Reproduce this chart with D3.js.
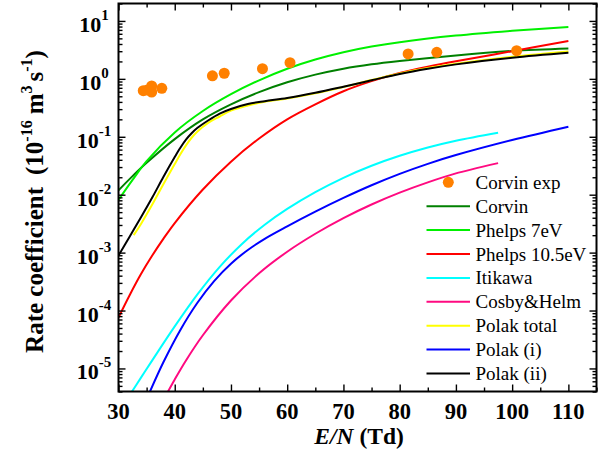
<!DOCTYPE html>
<html>
<head>
<meta charset="utf-8">
<script src="https://cdn.jsdelivr.net/npm/d3@7"></script>
<style>
  html, body { margin: 0; padding: 0; background: #fff; }
  svg { display: block; font-family: "Liberation Serif", "Times New Roman", Times, serif; }
</style>
</head>
<body>
<svg id="chart" width="605" height="456"></svg>
<script>
// ---- Rate coefficient vs reduced field E/N (units of 1e-16 m^3 s^-1) ----

// Corvin experimental points
const corvinExpEN = [34.4, 35.1, 35.9, 35.9, 37.7, 46.7, 48.8, 55.6, 60.5, 81.5, 86.6, 100.8];
const corvinExpK  = [0.625, 0.64, 0.753, 0.593, 0.687, 1.13, 1.25, 1.50, 1.90, 2.69, 2.87, 3.06];

// Corvin
const corvinEN = [30, 32.5, 35, 40, 45, 50, 55, 60, 65, 70, 75, 80, 90, 100, 110];
const corvinK  = [0.0119, 0.0209, 0.0355, 0.0912, 0.1995, 0.363, 0.589, 0.871, 1.182, 1.496, 1.782, 2.035, 2.541, 3.03, 3.34];

// Phelps 7eV
const phelps7EN = [30, 32.5, 35, 40, 45, 50, 55, 60, 65, 70, 75, 80, 90, 100, 110];
const phelps7K  = [0.00813, 0.0180, 0.0380, 0.1189, 0.2786, 0.5433, 0.9441, 1.496, 2.158, 2.884, 3.614, 4.305, 5.585, 6.761, 7.889];

// Phelps 10.5eV
const phelps105EN = [30, 32, 34, 36, 38, 40, 45, 50, 55, 60, 65, 70, 75, 80, 85, 90, 100, 110];
const phelps105K  = [7.6e-5, 1.86e-4, 4.27e-4, 8.9e-4, 1.74e-3, 3.24e-3, 0.0123, 0.0372, 0.0933, 0.200, 0.363, 0.611, 0.912, 1.259, 1.622, 2.018, 3.0, 4.487];

// Itikawa
const itikawaEN = [32, 34, 36, 40, 44, 48, 52, 56, 60, 65, 70, 75, 80, 85, 90, 97.5];
const itikawaK  = [3.48e-6, 6.95e-6, 1.38e-5, 5.32e-5, 1.88e-4, 5.68e-4, 1.426e-3, 3.03e-3, 5.68e-3, 0.01107, 0.01957, 0.03155, 0.04693, 0.0652, 0.0854, 0.1175];

// Cosby&Helm
const cosbyEN = [38.5, 40, 42, 45, 50, 55, 60, 65, 70, 75, 80, 85, 90, 97.5];
const cosbyK  = [3.53e-6, 6.46e-6, 1.374e-5, 3.74e-5, 1.49e-4, 4.40e-4, 1.036e-3, 2.116e-3, 3.94e-3, 6.77e-3, 0.01085, 0.01633, 0.02333, 0.0351];

// Polak total
const polakTotEN = [32.7, 34, 36, 38, 40, 41, 42, 43, 44, 46, 48, 50, 53, 56, 60, 65, 70, 75, 80, 85, 90, 100, 110];
const polakTotK  = [2.0e-3, 3.13e-3, 6.76e-3, 0.01531, 0.0339, 0.0499, 0.0711, 0.0962, 0.1222, 0.175, 0.2239, 0.2831, 0.3467, 0.4027, 0.4571, 0.5623, 0.7244, 0.955, 1.242, 1.538, 1.828, 2.41, 2.972];

// Polak (i)
const polakIEN = [35.5, 38, 41, 44, 47, 50, 53, 56, 60, 65, 70, 75, 80, 85, 90, 100, 110];
const polakIK  = [3.8e-6, 1.29e-5, 4.63e-5, 1.35e-4, 3.23e-4, 6.44e-4, 1.11e-3, 1.73e-3, 2.84e-3, 5.09e-3, 8.79e-3, 0.01455, 0.02286, 0.0341, 0.0483, 0.0879, 0.1493];

// Polak (ii)
const polakIIEN = [30, 32, 34, 36, 38, 40, 41, 42, 43, 44, 46, 48, 50, 53, 56, 60, 65, 70, 75, 80, 85, 90, 100, 110];
const polakIIK  = [8.91e-4, 1.905e-3, 4.07e-3, 8.91e-3, 0.0204, 0.0447, 0.0646, 0.0891, 0.1148, 0.1413, 0.1928, 0.2512, 0.302, 0.3673, 0.412, 0.4677, 0.5754, 0.7328, 0.9441, 1.216, 1.496, 1.778, 2.317, 2.818];

// Axis ticks
const xMajorTicks = [30, 40, 50, 60, 70, 80, 90, 100, 110];
const xMinorTicks = [35, 45, 55, 65, 75, 85, 95, 105, 115];
const yDecadeExps = [-5, -4, -3, -2, -1, 0, 1];

// Series in drawing / legend order
const seriesNames  = ["Corvin", "Phelps 7eV", "Phelps 10.5eV", "Itikawa", "Cosby&Helm", "Polak total", "Polak (i)", "Polak (ii)"];
const seriesColors = ["#008000", "#00f000", "#ff0000", "#00ffff", "#ff0a80", "#ffff00", "#0000ff", "#000000"];
const seriesEN = [corvinEN, phelps7EN, phelps105EN, itikawaEN, cosbyEN, polakTotEN, polakIEN, polakIIEN];
const seriesK  = [corvinK, phelps7K, phelps105K, itikawaK, cosbyK, polakTotK, polakIK, polakIIK];
const dotColor = "#ff8000";

// ---- layout ----
const svg = d3.select("#chart");
const plot = { left: 118.5, top: 3.5, right: 596.5, bottom: 391.5 };

const x = d3.scaleLinear().domain([30, 115]).range([plot.left, plot.right]);
const y = d3.scaleLog().domain([4e-6, 20]).range([plot.bottom, plot.top]);

svg.append("defs").append("clipPath").attr("id", "plotClip")
  .append("rect")
  .attr("x", plot.left).attr("y", plot.top)
  .attr("width", plot.right - plot.left).attr("height", plot.bottom - plot.top);

// ---- curves ----
const line = d3.line()
  .x(d => x(d[0]))
  .y(d => y(d[1]))
  .curve(d3.curveCatmullRom.alpha(0.5));

const curves = svg.append("g").attr("clip-path", "url(#plotClip)");
seriesNames.forEach((name, i) => {
  const pts = seriesEN[i].map((e, j) => [e, seriesK[i][j]]);
  curves.append("path")
    .datum(pts)
    .attr("d", line)
    .attr("fill", "none")
    .attr("stroke", seriesColors[i])
    .attr("stroke-width", 2)
    .attr("stroke-linejoin", "round");
});

// experimental points
curves.selectAll("circle.exp")
  .data(corvinExpEN.map((e, j) => [e, corvinExpK[j]]))
  .join("circle")
  .attr("class", "exp")
  .attr("cx", d => x(d[0]))
  .attr("cy", d => y(d[1]))
  .attr("r", 5.5)
  .attr("fill", dotColor);

// ---- axes (ticks drawn inward on all four sides) ----
const yMinor = [];
for (let k = -6; k <= 1; k++) {
  for (let m = 2; m <= 9; m++) {
    const v = m * Math.pow(10, k);
    if (v >= 4e-6 && v <= 20) yMinor.push(v);
  }
}
const yMajor = yDecadeExps.map(k => Math.pow(10, k));

function styleAxis(g) {
  g.select(".domain").remove();
  g.selectAll("line").attr("stroke", "#000").attr("stroke-width", 1.4);
  g.selectAll("text").remove();
}

svg.append("g").attr("transform", `translate(0,${plot.bottom})`)
  .call(d3.axisBottom(x).tickValues(xMajorTicks).tickSize(-7)).call(styleAxis);
svg.append("g").attr("transform", `translate(0,${plot.bottom})`)
  .call(d3.axisBottom(x).tickValues(xMinorTicks).tickSize(-4)).call(styleAxis);
svg.append("g").attr("transform", `translate(0,${plot.top})`)
  .call(d3.axisTop(x).tickValues(xMajorTicks).tickSize(-7)).call(styleAxis);
svg.append("g").attr("transform", `translate(0,${plot.top})`)
  .call(d3.axisTop(x).tickValues(xMinorTicks).tickSize(-4)).call(styleAxis);

svg.append("g").attr("transform", `translate(${plot.left},0)`)
  .call(d3.axisLeft(y).tickValues(yMajor).tickSize(-7)).call(styleAxis);
svg.append("g").attr("transform", `translate(${plot.left},0)`)
  .call(d3.axisLeft(y).tickValues(yMinor).tickSize(-4)).call(styleAxis);
svg.append("g").attr("transform", `translate(${plot.right},0)`)
  .call(d3.axisRight(y).tickValues(yMajor).tickSize(-7)).call(styleAxis);
svg.append("g").attr("transform", `translate(${plot.right},0)`)
  .call(d3.axisRight(y).tickValues(yMinor).tickSize(-4)).call(styleAxis);

// frame
svg.append("rect")
  .attr("x", plot.left).attr("y", plot.top)
  .attr("width", plot.right - plot.left).attr("height", plot.bottom - plot.top)
  .attr("fill", "none").attr("stroke", "#000").attr("stroke-width", 2);

// x tick labels
svg.append("g").selectAll("text")
  .data(xMajorTicks)
  .join("text")
  .attr("x", d => x(d))
  .attr("y", 419)
  .attr("text-anchor", "middle")
  .attr("font-size", 22.5)
  .attr("font-weight", "bold")
  .text(d => d);

// y tick labels as powers of ten
const yLab = svg.append("g").selectAll("text")
  .data(yDecadeExps)
  .join("text")
  .attr("x", 94)
  .attr("y", k => y(Math.pow(10, k)) + 11)
  .attr("text-anchor", "middle")
  .attr("font-weight", "bold");
yLab.append("tspan").attr("font-size", 22).text("10");
yLab.append("tspan").attr("font-size", 15).attr("dy", -12).text(k => String(k));

// y axis title
const yTitle = svg.append("text")
  .attr("transform", `translate(43,${(plot.top + plot.bottom) / 2 + 4}) rotate(-90)`)
  .attr("text-anchor", "middle")
  .attr("font-weight", "bold")
  .attr("font-size", 25);
yTitle.append("tspan").text("Rate coefficient");
yTitle.append("tspan").attr("dx", 12).text("(10");
yTitle.append("tspan").attr("font-size", 16).attr("dy", -11).text("-16");
yTitle.append("tspan").attr("dy", 11).attr("dx", 6).text("m");
yTitle.append("tspan").attr("font-size", 16).attr("dy", -11).text("3");
yTitle.append("tspan").attr("dy", 11).attr("dx", 4).text("s");
yTitle.append("tspan").attr("font-size", 16).attr("dy", -11).text("-1");
yTitle.append("tspan").attr("dy", 11).text(")");

// x axis title
const xTitle = svg.append("text")
  .attr("x", 359).attr("y", 443.5)
  .attr("text-anchor", "middle")
  .attr("font-weight", "bold")
  .attr("font-size", 23.5);
xTitle.append("tspan").attr("font-style", "italic").text("E/N");
xTitle.append("tspan").attr("dx", 6).text("(Td)");

// ---- legend ----
const legend = svg.append("g");
const legX0 = 426.5, legX1 = 470, legTextX = 475.5, legY0 = 182.3, legStep = 23.9;

legend.append("circle")
  .attr("cx", 448.3).attr("cy", legY0).attr("r", 5.5).attr("fill", dotColor);
legend.append("text")
  .attr("x", legTextX).attr("y", legY0 + 6.5)
  .attr("font-size", 19).text("Corvin exp");

seriesNames.forEach((name, i) => {
  const cy = legY0 + legStep * (i + 1);
  legend.append("line")
    .attr("x1", legX0).attr("x2", legX1)
    .attr("y1", cy).attr("y2", cy)
    .attr("stroke", seriesColors[i]).attr("stroke-width", 2);
  legend.append("text")
    .attr("x", legTextX).attr("y", cy + 6.5)
    .attr("font-size", 19).text(name);
});
</script>
</body>
</html>
